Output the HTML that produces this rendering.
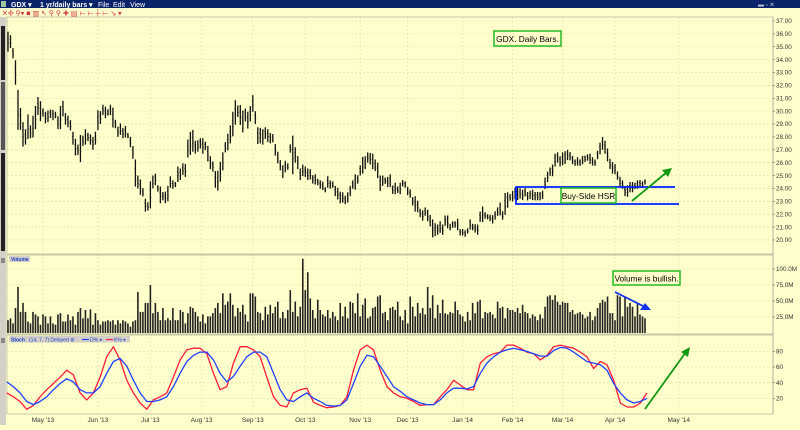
<!DOCTYPE html>
<html><head><meta charset="utf-8">
<style>
html,body{margin:0;padding:0;background:#ffffcc;}
body{width:800px;height:425px;overflow:hidden;position:relative;font-family:"Liberation Sans",sans-serif;}
svg text{font-family:"Liberation Sans",sans-serif;}
</style></head>
<body>
<svg id="chart" width="800" height="425" viewBox="0 0 800 425" xmlns="http://www.w3.org/2000/svg">
  <rect x="0" y="0" width="800" height="425" fill="#ffffcc"/>
  <g>
    <rect x="0" y="0" width="800" height="8" fill="#0a246a"/>
    <rect x="1" y="1" width="5" height="6" fill="#9fc7a0"/>
    <text x="11" y="6.8" font-size="7" fill="#fff" font-weight="bold">GDX ▾</text>
    <text x="40" y="6.8" font-size="7" fill="#fff" font-weight="bold">1 yr/daily bars ▾</text>
    <text x="98" y="6.8" font-size="7" fill="#fff">File</text>
    <text x="113" y="6.8" font-size="7" fill="#fff">Edit</text>
    <text x="130" y="6.8" font-size="7" fill="#fff">View</text>
    <text x="758" y="6.5" font-size="6" fill="#ccd">▬ ▫ ✕</text>
  </g>
  <g>
    <rect x="0" y="8" width="800" height="9" fill="#fffccc"/>
    <text x="2" y="15.5" font-size="7" fill="#c33">✕✣ ⚲▾ ■ ▥ ↖ ⚲ ⚲ ✚ ▤ ⊢ ⊢ ┼ ⊢ ↘ ▾</text>
  </g>
  <rect x="0" y="17" width="6" height="408" fill="#d4d0c8"/>
  <rect x="1" y="26" width="4" height="54" fill="#222"/>
  <rect x="1" y="82" width="4" height="68" fill="#555"/>
  <rect x="1" y="153" width="4" height="98" fill="#222"/>
  <rect x="1" y="258" width="4" height="5" fill="#888"/>
  <rect x="1" y="338" width="4" height="5" fill="#888"/>
  <g id="grid"></g>
  <g id="panels"></g>
  <g id="price"></g>
  <g id="vol"></g>
  <g id="stoch"></g>
  <g id="axes"></g>

  <g>
    <rect x="9" y="256" width="21" height="6" fill="#d4d0c8"/>
    <text x="11" y="261" font-size="5" fill="#1a3fcc" font-weight="bold">Volume</text>
  </g>
  <g>
    <rect x="9" y="336" width="121" height="6.5" fill="#d4d0c8"/>
    <text x="11" y="341.5" font-size="5" fill="#1a3fcc" font-weight="bold">Stoch</text>
    <text x="29" y="341.5" font-size="5" fill="#1a3fcc">(14, 7, 7) Delayed ⚙</text>
    <line x1="82" y1="339.5" x2="89" y2="339.5" stroke="#1f3fff" stroke-width="1.2"/>
    <text x="90" y="341.5" font-size="5" fill="#1a3fcc">D% ▾</text>
    <line x1="106" y1="339.5" x2="113" y2="339.5" stroke="#ff2040" stroke-width="1.2"/>
    <text x="114" y="341.5" font-size="5" fill="#1a3fcc">K% ▾</text>
  </g>

  <g>
    <rect x="494" y="31" width="67" height="15" fill="#ffffcc" stroke="#22bb22" stroke-width="1.5"/>
    <text x="527.5" y="41.8" font-size="8.3" text-anchor="middle" fill="#000">GDX. Daily Bars.</text>
    <polyline points="675,187 516,187 516,204 679,204" fill="none" stroke="#0022ff" stroke-width="1.8"/>
    <rect x="561" y="188" width="55" height="15" fill="#ffffcc" stroke="#22bb22" stroke-width="1.5"/>
    <text x="588.5" y="198.8" font-size="8.3" text-anchor="middle" fill="#000">Buy-Side HSR</text>
    <line x1="632" y1="201" x2="667" y2="172" stroke="#119911" stroke-width="1.8"/>
    <polygon points="672,168 662,170 668,177" fill="#119911"/>
    <rect x="613" y="271" width="67" height="14" fill="#ffffcc" stroke="#22bb22" stroke-width="1.5"/>
    <text x="646.5" y="281.3" font-size="8.3" text-anchor="middle" fill="#000">Volume is bullish.</text>
    <line x1="615" y1="292" x2="645" y2="307" stroke="#1133ee" stroke-width="1.8"/>
    <polygon points="651,310 640,310 645,303" fill="#1133ee"/>
    <line x1="645" y1="409" x2="686" y2="352" stroke="#119911" stroke-width="1.8"/>
    <polygon points="690,347 681,352 688,357" fill="#119911"/>
  </g>
</svg>
<script>
// ---- data ----
const priceMid = [35.4,35.4,34.5,33,30.1,29.4,28.2,28.0,28.8,28.4,28.8,29.5,30.4,30,29.9,29.5,29.6,29.8,29.7,29.7,29.1,29.5,30.2,29.4,29.2,28.9,27.9,27.2,27,27.1,27.7,28,28,27.8,27.5,27.9,29.3,29.5,30.1,29.9,29.9,30.1,29.5,29,28.4,28.6,28.3,28.4,28.1,27.6,26.8,25.2,24.5,24.1,23.7,22.7,22.6,23.5,24.5,24.7,24,23.5,23.4,23.3,23.6,24.5,24.3,24.3,25.1,25.1,25.5,25.4,27.1,27.5,27.7,27.2,27.3,27.5,27.3,27.3,26.7,26,25.7,24.7,24.6,25.3,26.1,27.2,27.6,28.2,29,29.9,30,29.7,29.2,29.7,29.3,29.8,30.6,29.5,28.1,28.1,28,28.3,28.1,27.9,27.9,27,26.4,25.8,25.3,25.7,25.7,27.1,26.6,26.6,26,25.1,25.4,25.3,25.1,25.1,24.7,24.7,24.5,24.3,24.2,23.9,
24.5,24.3,24.3,23.8,23.6,23.3,23.3,23.1,23.3,23.8,24.3,24.5,24.7,25.4,25.8,26,26.4,26.3,26.1,25.8,25.4,24.4,24.6,24.6,24.5,24.6,23.9,24,23.9,24,24.4,24.3,23.8,23.6,23,22.8,22.6,22.1,21.9,22.2,21.9,21.5,20.9,20.8,20.8,21,20.8,21.5,21.4,21,21.2,21.2,21.2,20.6,20.6,20.5,20.7,21.2,21,20.9,20.8,21.8,22,21.9,21.8,21.7,21.6,21.9,22.2,22.4,21.9,22.8,23.1,23.3,23.4,23.6,23.6,23.6,23.5,23.7,23.4,23.5,23.5,23.4,23.4,23.4,23.5,24.4,24.9,25.3,25.4,26.2,26.4,26.1,26.3,26.4,26.6,26.5,26.2,26,26.1,26,26.2,26.3,26.4,26.3,26.1,26,26.6,27.1,27.5,27.2,26.6,25.9,25.6,25.5,25,24.5,24.3,23.8,23.8,24.1,24.1,24.2,24.3,24.4,24.3,24.5];
const priceRange = [1.55,1.0,0.8,1.9,3.1,1.7,1.9,1.2,1.9,1.0,1.7,1.8,1.4,1.55,0.65,0.9,0.9,0.65,0.8,0.5,1.0,1.8,1.2,0.9,0.9,0.8,1.0,1.3,0.8,2.1,0.8,1.2,0.65,0.8,1.0,1.0,1.55,1.0,0.8,0.9,0.5,0.8,1.55,0.65,0.8,0.9,0.8,0.9,0.4,0.8,1.0,2.1,1.0,1.2,0.65,1.0,0.65,2.1,1.0,0.9,0.5,1.3,0.65,0.9,1.2,0.9,0.65,0.4,1.2,0.9,0.9,1.0,1.4,1.8,1.7,1.0,0.9,0.8,1.2,0.65,1.2,1.0,0.8,1.3,1.55,1.55,1.4,0.8,1.3,1.4,1.9,1.9,0.9,1.55,1.7,1.0,1.3,1.2,1.3,1.0,1.3,1.2,1.2,0.9,1.0,0.8,0.65,0.9,0.9,0.8,1.0,0.9,0.5,0.65,3.0,1.2,1.0,0.9,0.9,0.8,0.9,0.8,0.65,0.8,0.5,0.65,0.65,0.4,0.9,
0.65,0.5,0.8,0.9,0.9,0.8,0.65,0.8,0.8,0.65,1.2,0.65,0.8,1.3,1.0,0.8,0.9,1.2,0.9,1.2,1.2,0.8,0.5,0.8,1.0,0.65,0.9,0.5,0.9,0.5,0.5,0.65,0.65,0.65,1.2,0.9,0.65,0.8,0.65,0.9,0.9,1.4,1.0,0.8,0.9,0.8,0.8,1.0,0.5,0.5,0.5,0.9,0.5,0.5,0.5,0.4,0.8,0.5,0.65,0.8,0.8,1.2,0.5,0.4,0.5,0.65,0.65,0.65,1.0,0.65,1.7,1.2,0.5,0.8,0.9,1.0,0.8,0.8,0.65,0.65,0.65,0.8,0.65,0.65,0.65,0.65,0.9,0.8,0.65,0.9,1.0,0.8,0.8,1.0,1.0,0.8,0.65,0.65,0.5,0.65,0.5,0.65,0.5,0.5,0.8,0.65,0.5,0.65,0.9,1.0,1.0,1.0,0.8,0.9,0.8,0.65,0.8,0.65,0.8,0.9,0.8,0.8,0.5,0.65,0.5,0.5,0.4];
const volumeM = [20,23,15,39,72,33,47,33,18,15,33,29,26,13,29,26,15,26,15,13,29,31,18,18,29,20,26,13,33,39,23,36,23,37,13,31,20,13,18,18,20,18,20,13,20,15,20,18,15,10,18,20,64,33,33,47,47,75,31,47,33,20,39,20,23,20,39,20,20,36,33,15,31,41,39,33,26,18,29,15,26,26,31,39,47,31,62,44,49,62,44,26,39,33,44,29,18,62,62,57,33,31,20,41,29,44,31,41,49,23,33,23,36,67,33,49,26,41,116,67,95,54,36,23,52,36,29,26,36,23,33,26,20,47,26,41,23,49,47,31,62,26,44,54,23,26,39,41,57,59,31,33,20,39,41,36,49,26,20,
36,15,57,41,26,47,31,39,29,72,39,59,23,44,31,52,31,29,33,31,49,36,29,26,18,33,20,47,31,49,52,23,33,31,33,29,23,49,39,41,23,39,36,36,33,39,31,44,33,31,23,29,26,20,29,23,41,57,59,52,59,49,44,49,47,47,33,36,29,31,33,29,23,26,33,20,26,39,47,52,49,57,31,31,20,59,57,26,57,41,47,41,26,47,29,26,23];
const stochK = [27,22,16,6,11,22,31,39,47,56,50,27,18,27,47,73,86,69,43,27,14,6,18,22,27,47,69,82,84,84,77,52,31,35,65,86,86,82,73,47,22,11,9,27,31,33,15,11,8,9,11,22,56,82,88,82,56,35,27,22,
20,16,11,12,12,22,31,43,37,31,31,65,73,77,79,88,88,84,79,77,69,75,86,88,86,84,79,73,58,67,63,43,14,9,9,14,27];
const stochD = [41,35,27,16,12,16,22,31,39,45,41,31,27,27,35,52,67,71,61,43,27,16,16,18,22,35,52,67,75,79,79,69,52,41,48,61,73,79,79,73,52,31,18,16,22,27,20,16,11,10,11,18,39,61,75,73,61,48,35,29,
22,18,14,12,12,18,27,33,33,32,35,52,65,73,79,82,84,82,80,77,74,74,81,85,84,79,73,67,65,63,56,39,27,18,14,16,20];
const priceTicks = [20,21,22,23,24,25,26,27,28,29,30,31,32,33,34,35,36,37];
const volumeTicks = [25,50,75,100];
const stochTicks = [20,40,60,80];
const monthLabels = ["May '13","Jun '13","Jul '13","Aug '13","Sep '13","Oct '13","Nov '13","Dec '13","Jan '14","Feb '14","Mar '14","Apr '14","May '14"];
const monthBarIndex = [14,36,57,77.5,98,119,141,160,182,202,222,243,268.5];

// ---- scales ----
const NS='http://www.w3.org/2000/svg';
const X0=8, X1=645, PL=7, PR=773;
const nBars = priceMid.length;
function xBar(i){return X0 + i*(X1-X0)/(nBars-1);}
function xVol(i){return X0 + i*(X1-X0)/(volumeM.length-1);}
function xSt(i){return 6.7 + i*(647-6.7)/(stochK.length-1);}
function yPrice(p){return 21 + (37-p)*12.88;}
function yVol(v){return 333 - v*16/25;}
function ySt(v){return 414 - v*0.783;}
function mk(tag,attrs,parent){const e=document.createElementNS(NS,tag);for(const k in attrs)e.setAttribute(k,attrs[k]);parent.appendChild(e);return e;}

const grid=document.getElementById('grid'), panels=document.getElementById('panels'), axes=document.getElementById('axes');
[[17,254],[255,334],[335,414]].forEach(function(p){
  const r=mk('rect',{x:PL,y:p[0],width:PR-PL,height:p[1]-p[0],fill:'none',stroke:'#c8c8a8','stroke-width':1},panels);
  
  
});
mk('line',{x1:PR,y1:17,x2:PR,y2:414,stroke:'#b0b0a0','stroke-width':1},panels);
monthBarIndex.forEach(function(b,k){
  const x=xBar(b);
  mk('line',{x1:x,y1:17,x2:x,y2:414,stroke:'#e4e4b0','stroke-width':0.8,'stroke-dasharray':'2,2'},grid);
  const t=mk('text',{x:x,y:422,'font-size':6.5,'text-anchor':'middle',fill:'#333'},axes);
  
  
  t.textContent=monthLabels[k];
});
priceTicks.forEach(function(p){
  const y=yPrice(p);
  mk('line',{x1:PL,y1:y,x2:PR,y2:y,stroke:'#e4e4b0','stroke-width':0.8,'stroke-dasharray':'2,2'},grid);
  mk('line',{x1:PR,y1:y,x2:PR+2,y2:y,stroke:'#666','stroke-width':0.6},axes);
  const t=mk('text',{x:776,y:y+2.2,'font-size':6.3,fill:'#333'},axes);
  
  
  t.textContent=p.toFixed(2);
});
volumeTicks.forEach(function(v){
  const y=yVol(v);
  mk('line',{x1:PL,y1:y,x2:PR,y2:y,stroke:'#e4e4b0','stroke-width':0.8,'stroke-dasharray':'2,2'},grid);
  mk('line',{x1:PR,y1:y,x2:PR+2,y2:y,stroke:'#666','stroke-width':0.6},axes);
  const t=mk('text',{x:776,y:y+2.2,'font-size':6.3,fill:'#333'},axes);
  
  
  t.textContent=v.toFixed(1)+'M';
});
stochTicks.forEach(function(v){
  const y=ySt(v);
  mk('line',{x1:PL,y1:y,x2:PR,y2:y,stroke:'#e4e4b0','stroke-width':0.8,'stroke-dasharray':'2,2'},grid);
  mk('line',{x1:PR,y1:y,x2:PR+2,y2:y,stroke:'#666','stroke-width':0.6},axes);
  const t=mk('text',{x:776,y:y+2.2,'font-size':6.3,fill:'#333'},axes);
  
  
  t.textContent=String(v);
});
const pg=document.getElementById('price');
priceMid.forEach(function(m,i){
  const r=(priceRange[i]||0.7)/2, x=xBar(i);
  const l=mk('line',{x1:x,y1:yPrice(m+r),x2:x,y2:yPrice(m-r),stroke:'#111','stroke-width':1.3},pg);
  
  
  mk('line',{x1:x-1,y1:yPrice(m+r*0.3),x2:x,y2:yPrice(m+r*0.3),stroke:'#111','stroke-width':0.6},pg);
  mk('line',{x1:x,y1:yPrice(m-r*0.2),x2:x+1,y2:yPrice(m-r*0.2),stroke:'#111','stroke-width':0.6},pg);
});
const vg=document.getElementById('vol');
volumeM.forEach(function(v,i){
  const x=xVol(i);
  const b=mk('rect',{x:x-0.8,y:yVol(v),width:1.6,height:333-yVol(v),fill:'#222'},vg);
  
  
});
const sg=document.getElementById('stoch');
function line(arr,color,name){
  const pts=arr.map(function(v,i){return xSt(i).toFixed(1)+','+ySt(v).toFixed(1);}).join(' ');
  const pl=mk('polyline',{points:pts,fill:'none',stroke:color,'stroke-width':1.3,'stroke-linejoin':'round'},sg);
  
  
}
line(stochK,'#ff1a3a','stoch-k-line');
line(stochD,'#1f3fff','stoch-d-line');
</script>
</body></html>
